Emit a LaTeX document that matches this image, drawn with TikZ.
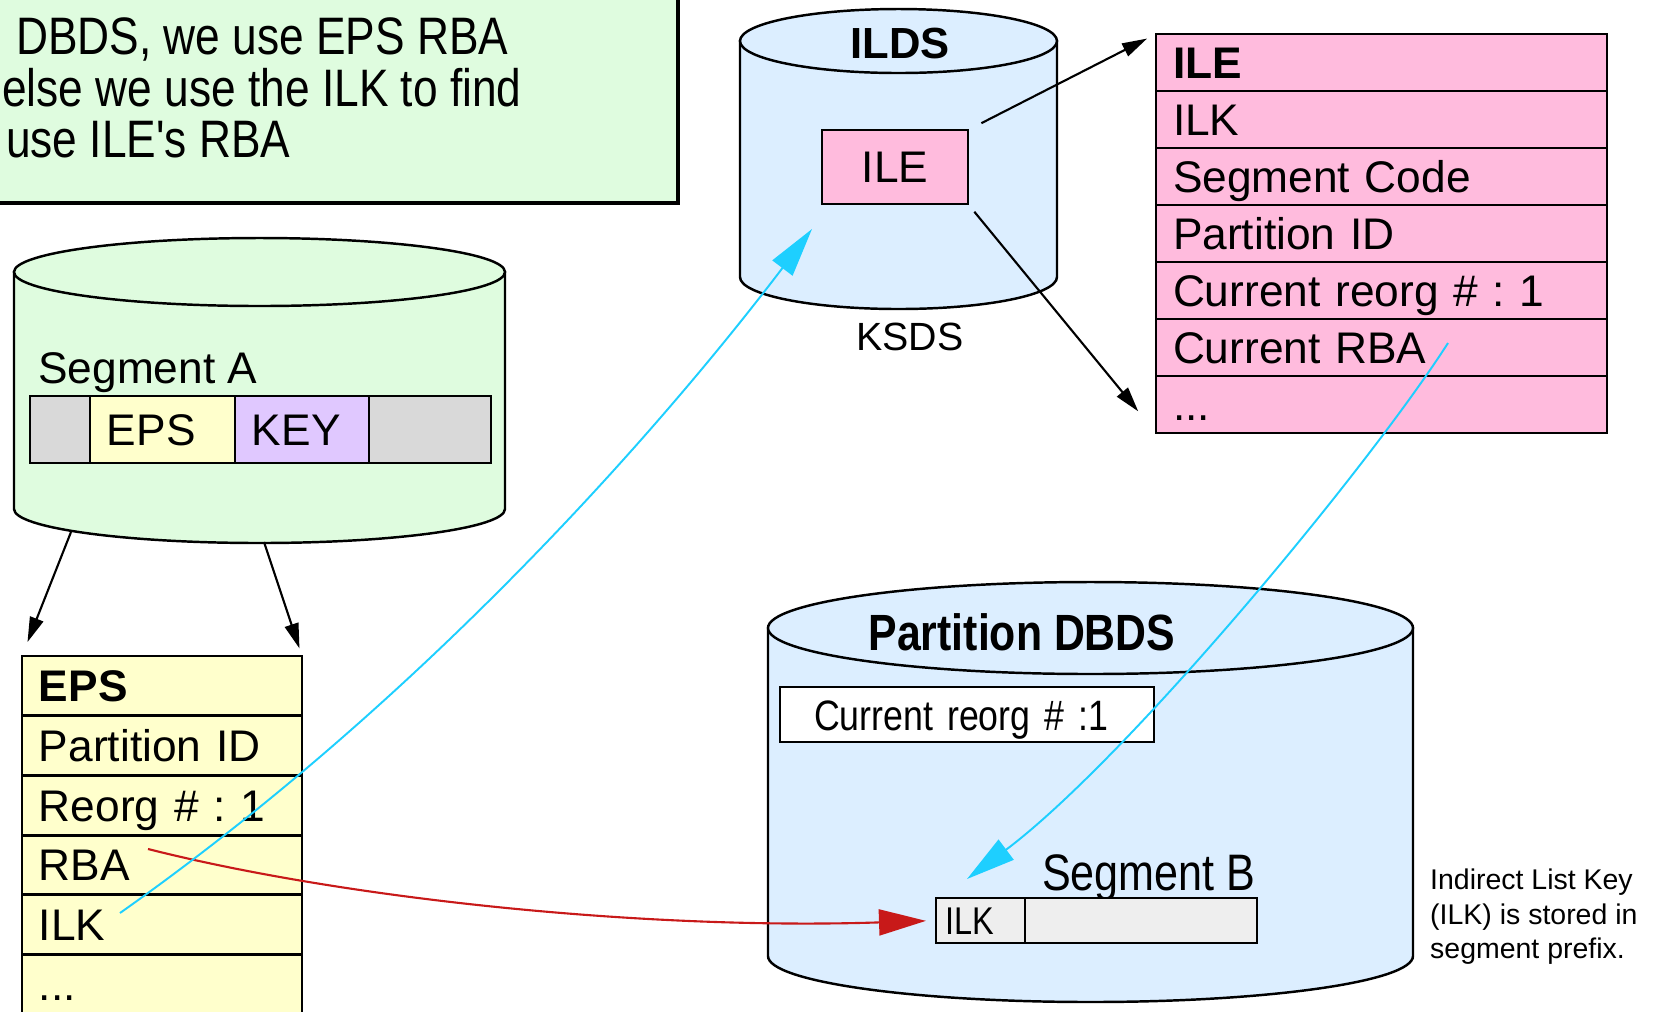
\documentclass[tikz,border=0pt]{standalone}
\usepackage{fontspec}
\setmainfont{Liberation Sans}
\newfontfamily\narrowfont[FakeStretch=0.84]{Liberation Sans}
\usetikzlibrary{positioning,arrows.meta}

\definecolor{segagreen}{RGB}{223,252,223}
\definecolor{dsblue}{RGB}{220,238,255}
\definecolor{ilepink}{RGB}{255,187,221}
\definecolor{epsyellow}{RGB}{255,255,204}
\definecolor{keypurple}{RGB}{224,200,255}
\definecolor{pfxgray}{RGB}{217,217,217}
\definecolor{seggray}{RGB}{238,238,238}
\definecolor{ptrcyan}{RGB}{30,207,255}
\definecolor{rbared}{RGB}{200,25,25}

% cylinder: left, right, top y, bottom y, y radius, fill
\newcommand{\dbcyl}[6]{%
	\pgfmathsetmacro{\cylx}{(#1+#2)/2}%
	\pgfmathsetmacro{\cylr}{(#2-#1)/2}%
	\filldraw[fill=#6] (#1,-#3) -- (#1,-#4) arc[start angle=180, end angle=360, x radius=\cylr, y radius=#5] -- (#2,-#3) -- cycle;
	\filldraw[fill=#6] (\cylx,-#3) ellipse[x radius=\cylr, y radius=#5];
}

\begin{document}
\frenchspacing
\begin{tikzpicture}[x=0.1mm, y=0.1mm, line width=0.7pt,
	font=\fontsize{12.6}{15}\selectfont,
	cell/.style={draw, line width=0.8pt, outer sep=0pt, inner xsep=1.7mm, inner ysep=0pt, text height=3.2mm, text depth=0pt, align=left},
	epsrow/.style={cell, fill=epsyellow, text width=24.6mm, minimum height=5.97mm},
	ilerow/.style={cell, fill=ilepink, text width=41.7mm, minimum height=5.7mm},
	segcell/.style={cell, minimum height=6.7mm},
	notetext/.style={anchor=base west, inner sep=0pt, font=\narrowfont\fontsize{15}{15}\selectfont},
	blkarrow/.style={-{Triangle[length=2.5mm, width=1.4mm]}, line width=0.6pt},
	cyanarrow/.style={-{Triangle[length=4.9mm, width=2.5mm]}, ptrcyan, line width=0.55pt},
	redarrow/.style={-{Triangle[length=4.7mm, width=2.6mm]}, rbared, line width=0.6pt}]
	\useasboundingbox (0,0) rectangle (1657,-1011);

	% note box, top left
	\filldraw[fill=segagreen, line width=1.2pt] (-20,20) rectangle (678,-203);
	\node[notetext] (note1) at (15,-54) {DBDS, we use EPS RBA};
	\node[notetext] (note2) at (1,-106) {else we use the ILK to find};
	\node[notetext] (note3) at (5,-157) {use ILE's RBA};

	% data sets
	\dbcyl{14}{505}{272}{509}{34}{segagreen}
	\dbcyl{740}{1057}{41}{277}{32}{dsblue}
	\dbcyl{768}{1413}{628}{956}{46}{dsblue}

	% segment A
	\node[anchor=base west, inner sep=0pt] (segalbl) at (37,-383) {Segment A};
	\node[segcell, fill=pfxgray, anchor=north west, minimum width=6mm] (sega1) at (30,-396) {};
	\node[segcell, fill=epsyellow, right=0pt of sega1, text width=11.1mm] (sega2) {EPS};
	\node[segcell, fill=keypurple, right=0pt of sega2, text width=10mm] (sega3) {KEY};
	\node[segcell, fill=pfxgray, right=0pt of sega3, minimum width=12.2mm] (sega4) {};

	% ILDS
	\node[font=\bfseries\fontsize{12.4}{15}\selectfont] (ildslbl) at (900,-43) {ILDS};
	\node[draw, fill=ilepink, line width=0.8pt, outer sep=0pt, minimum width=14.6mm, minimum height=7.4mm] (ilebox) at (895,-167) {ILE};
	\node[font=\fontsize{11.2}{13}\selectfont] (ksds) at (910,-337) {KSDS};

	% ILE fields
	\node[ilerow, anchor=north west] (ile1) at (1156,-34) {\textbf{ILE}};
	\node[ilerow, below=0pt of ile1] (ile2) {ILK};
	\node[ilerow, below=0pt of ile2] (ile3) {Segment Code};
	\node[ilerow, below=0pt of ile3] (ile4) {Partition ID};
	\node[ilerow, below=0pt of ile4] (ile5) {Current reorg \# : 1};
	\node[ilerow, below=0pt of ile5] (ile6) {Current RBA};
	\node[ilerow, below=0pt of ile6] (ile7) {...};

	% EPS fields
	\node[epsrow, anchor=north west] (eps1) at (22,-656) {\textbf{EPS}};
	\node[epsrow, below=0pt of eps1] (eps2) {Partition ID};
	\node[epsrow, below=0pt of eps2] (eps3) {Reorg \# : 1};
	\node[epsrow, below=0pt of eps3] (eps4) {RBA};
	\node[epsrow, below=0pt of eps4] (eps5) {ILK};
	\node[epsrow, below=0pt of eps5] (eps6) {...};

	% partition DBDS
	\node[font=\narrowfont\bfseries\fontsize{14.5}{16}\selectfont] (pdbdslbl) at (1022,-632) {Partition DBDS};
	\node[draw, fill=white, line width=0.8pt, outer sep=0pt, anchor=north west, inner xsep=3.4mm, inner ysep=0pt, text width=30.6mm, minimum height=5.5mm, text height=3.1mm, text depth=0pt, align=left, font=\narrowfont\fontsize{12.1}{14}\selectfont] (reorgbox) at (780,-687) {Current reorg \# :1};
	\node[anchor=base west, inner sep=0pt, font=\narrowfont\fontsize{14.6}{16}\selectfont] (segblbl) at (1041,-890) {Segment B};
	\node[cell, fill=seggray, anchor=north west, inner xsep=0.9mm, text width=7.1mm, minimum height=4.5mm, text height=2.8mm, font=\narrowfont\fontsize{11}{13}\selectfont] (segb1) at (936,-898) {ILK};
	\node[cell, fill=seggray, right=0pt of segb1, minimum width=23.2mm, minimum height=4.5mm] (segb2) {};
	\node[anchor=north west, inner sep=0pt, align=left, font=\fontsize{8.1}{9.8}\selectfont] (ilknote) at (1429,-868) {Indirect List Key\\(ILK) is stored in\\segment prefix.};

	% pointers
	\coordinate (segAbl) at (71,-532);
	\coordinate (segAbr) at (264,-542);
	\coordinate (rbaend) at (148,-849);
	\coordinate (ilkend) at (120,-913);
	\coordinate (crbaend) at (1448,-343);
	\draw[blkarrow, shorten >=1.5mm] (segAbl) -- (eps1.north west);
	\draw[blkarrow, shorten >=0.8mm] (segAbr) -- (eps1.north east);
	\draw[blkarrow, shorten <=1.5mm, shorten >=1mm] (ilebox.north east) -- (ile1.north west);
	\draw[blkarrow, shorten <=1mm, shorten >=2.8mm] (ilebox.south east) -- (ile7.south west);
	\draw[redarrow, shorten >=1mm] (rbaend) .. controls (350,-900) and (650,-930) .. (segb1.west);
	\draw[cyanarrow] (ilkend) .. controls (450,-680) and (690,-390) .. ([shift={(-10,-25)}]ilebox.south west);
	\draw[cyanarrow] (crbaend) .. controls (1368,-468) and (1127,-759) .. ([shift={(31,19)}]segb1.north west);
\end{tikzpicture}
\end{document}
